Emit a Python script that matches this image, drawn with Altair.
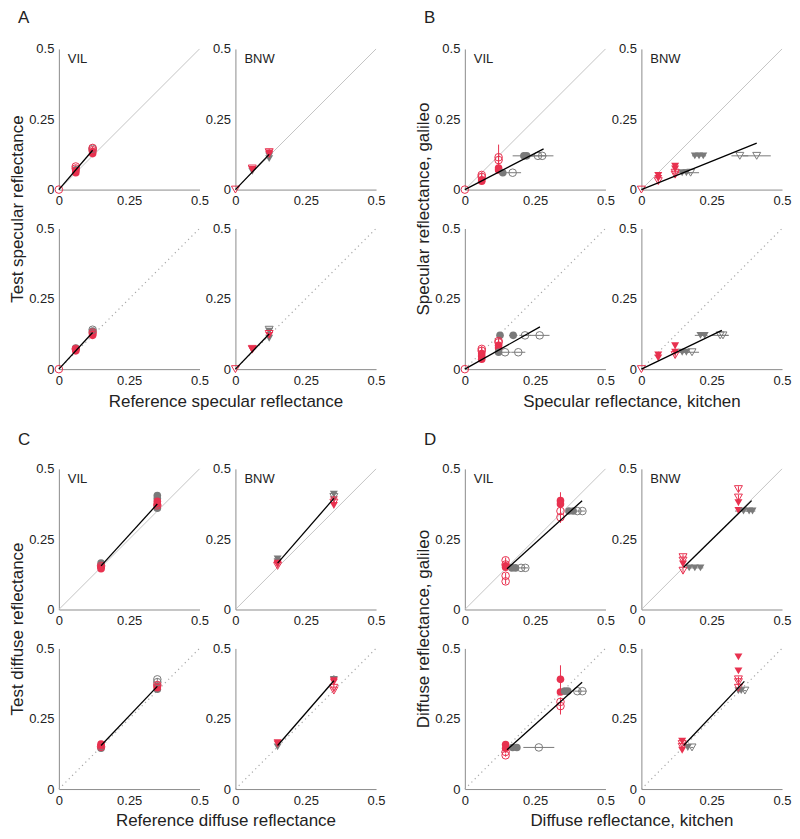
import altair as alt
import pandas as pd

RED = "#E8314F"
GRAY = "#7a7a7a"
FONT = "Liberation Sans"

# point tuples: (x, y, colour group, filled, x half-error, y half-error)
A_VIL_1 = [(0.0, 0.0, 'r', 0, 0, 0),
           (0.06, 0.07, 'g', 1, 0, 0.005), (0.06, 0.06, 'r', 1, 0, 0.005), (0.06, 0.067, 'r', 1, 0, 0.005),
           (0.06, 0.075, 'r', 0, 0, 0.005), (0.06, 0.082, 'r', 0, 0, 0.005),
           (0.12, 0.145, 'g', 0, 0, 0.005), (0.12, 0.128, 'r', 1, 0, 0.005), (0.12, 0.135, 'r', 1, 0, 0.005),
           (0.12, 0.14, 'r', 0, 0, 0.005), (0.12, 0.148, 'r', 0, 0, 0.005)]
A_BNW_1 = [(0.0, 0.0, 'r', 0, 0, 0),
           (0.06, 0.065, 'g', 1, 0, 0.005), (0.06, 0.07, 'r', 1, 0, 0.005), (0.06, 0.072, 'r', 1, 0, 0.005),
           (0.06, 0.075, 'r', 0, 0, 0.005),
           (0.12, 0.11, 'g', 1, 0, 0.005), (0.12, 0.12, 'g', 1, 0, 0.005), (0.12, 0.125, 'r', 1, 0, 0.005),
           (0.12, 0.13, 'r', 1, 0, 0.005), (0.12, 0.133, 'r', 0, 0, 0.012)]
A_VIL_2 = [(0.0, 0.0, 'r', 0, 0, 0),
           (0.06, 0.075, 'g', 1, 0, 0.005), (0.06, 0.065, 'r', 1, 0, 0.005), (0.06, 0.07, 'r', 1, 0, 0.005),
           (0.06, 0.072, 'r', 0, 0, 0.005),
           (0.12, 0.14, 'g', 0, 0, 0.005), (0.12, 0.135, 'g', 1, 0, 0.005), (0.12, 0.12, 'r', 1, 0, 0.005),
           (0.12, 0.125, 'r', 1, 0, 0.005), (0.12, 0.13, 'r', 0, 0, 0.005)]
A_BNW_2 = [(0.0, 0.0, 'r', 0, 0, 0),
           (0.06, 0.07, 'r', 1, 0, 0.005), (0.06, 0.068, 'r', 1, 0, 0.005), (0.06, 0.072, 'r', 0, 0, 0.005),
           (0.12, 0.135, 'g', 1, 0, 0.005), (0.12, 0.14, 'g', 0, 0, 0.005), (0.12, 0.11, 'g', 1, 0, 0.005),
           (0.12, 0.12, 'r', 1, 0, 0.005), (0.12, 0.125, 'r', 0, 0, 0.005)]

B_VIL_1 = [(0.0, 0.0, 'r', 0, 0, 0),
           (0.06, 0.03, 'r', 1, 0, 0.005), (0.06, 0.035, 'r', 1, 0, 0.005), (0.06, 0.045, 'r', 0, 0, 0.01),
           (0.06, 0.052, 'r', 0, 0, 0.01),
           (0.12, 0.07, 'r', 1, 0, 0.008), (0.12, 0.077, 'r', 1, 0, 0.008), (0.12, 0.105, 'r', 0, 0, 0.02),
           (0.12, 0.115, 'r', 0, 0, 0.045),
           (0.135, 0.06, 'g', 1, 0.01, 0), (0.17, 0.06, 'g', 0, 0.03, 0),
           (0.21, 0.12, 'g', 1, 0.04, 0), (0.22, 0.12, 'g', 1, 0.02, 0), (0.26, 0.12, 'g', 0, 0.03, 0),
           (0.275, 0.12, 'g', 0, 0.04, 0)]
B_BNW_1 = [(0.0, 0.0, 'r', 0, 0, 0),
           (0.06, 0.03, 'r', 0, 0, 0.01), (0.06, 0.04, 'r', 1, 0, 0.005), (0.06, 0.05, 'r', 1, 0, 0.005),
           (0.12, 0.053, 'r', 0, 0, 0.01), (0.12, 0.06, 'r', 0, 0, 0.005), (0.12, 0.073, 'r', 1, 0, 0.005),
           (0.12, 0.083, 'r', 1, 0, 0.005),
           (0.145, 0.06, 'g', 1, 0.02, 0), (0.16, 0.06, 'g', 1, 0.02, 0), (0.175, 0.06, 'g', 0, 0.03, 0),
           (0.19, 0.12, 'g', 1, 0.01, 0), (0.205, 0.12, 'g', 1, 0.01, 0), (0.22, 0.12, 'g', 1, 0.01, 0),
           (0.35, 0.12, 'g', 0, 0.03, 0), (0.41, 0.12, 'g', 0, 0.05, 0)]
B_VIL_2 = [(0.0, 0.0, 'r', 0, 0, 0),
           (0.06, 0.035, 'r', 1, 0, 0.005), (0.06, 0.045, 'r', 1, 0, 0.005), (0.06, 0.055, 'r', 1, 0, 0.005),
           (0.06, 0.065, 'r', 0, 0, 0.01), (0.06, 0.072, 'r', 0, 0, 0.01),
           (0.12, 0.075, 'r', 1, 0, 0.005), (0.12, 0.085, 'r', 1, 0, 0.005), (0.12, 0.095, 'r', 0, 0, 0.01),
           (0.12, 0.1, 'r', 0, 0, 0.01),
           (0.12, 0.06, 'g', 1, 0, 0), (0.143, 0.06, 'g', 0, 0.02, 0), (0.19, 0.06, 'g', 0, 0.025, 0),
           (0.125, 0.12, 'g', 1, 0.01, 0), (0.172, 0.12, 'g', 1, 0.015, 0), (0.214, 0.12, 'g', 0, 0.02, 0),
           (0.266, 0.12, 'g', 0, 0.035, 0)]
B_BNW_2 = [(0.0, 0.0, 'r', 0, 0, 0),
           (0.06, 0.04, 'r', 1, 0, 0.005), (0.06, 0.05, 'r', 1, 0, 0.005),
           (0.12, 0.05, 'r', 0, 0, 0.01), (0.12, 0.06, 'r', 1, 0, 0.005), (0.12, 0.083, 'r', 1, 0, 0.01),
           (0.145, 0.06, 'g', 1, 0.02, 0), (0.16, 0.06, 'g', 1, 0.01, 0), (0.18, 0.06, 'g', 0, 0.025, 0),
           (0.21, 0.12, 'g', 1, 0.02, 0), (0.225, 0.12, 'g', 1, 0.01, 0), (0.28, 0.12, 'g', 0, 0.03, 0),
           (0.29, 0.12, 'g', 0, 0.02, 0)]

C_VIL_1 = [(0.15, 0.165, 'g', 1, 0, 0.01), (0.15, 0.155, 'g', 1, 0, 0.005), (0.15, 0.15, 'r', 1, 0, 0.005),
           (0.15, 0.145, 'r', 1, 0, 0.005), (0.15, 0.155, 'r', 0, 0, 0.005),
           (0.35, 0.405, 'g', 1, 0, 0.005), (0.35, 0.395, 'g', 1, 0, 0.005), (0.35, 0.36, 'g', 1, 0, 0.005),
           (0.35, 0.385, 'r', 1, 0, 0.005), (0.35, 0.375, 'r', 1, 0, 0.005), (0.35, 0.37, 'r', 0, 0, 0.005)]
C_BNW_1 = [(0.15, 0.18, 'g', 1, 0, 0.01), (0.15, 0.17, 'g', 1, 0, 0.005), (0.15, 0.16, 'r', 1, 0, 0.005),
           (0.15, 0.165, 'r', 1, 0, 0.005), (0.15, 0.155, 'r', 0, 0, 0.005),
           (0.35, 0.41, 'g', 1, 0, 0.01), (0.35, 0.4, 'g', 0, 0, 0.005), (0.35, 0.39, 'r', 1, 0, 0.005),
           (0.35, 0.38, 'r', 0, 0, 0.005), (0.35, 0.37, 'r', 1, 0, 0.005)]
C_VIL_2 = [(0.15, 0.145, 'g', 1, 0, 0.005), (0.15, 0.16, 'r', 1, 0, 0.005), (0.15, 0.155, 'r', 1, 0, 0.005),
           (0.15, 0.15, 'r', 0, 0, 0.005),
           (0.35, 0.39, 'g', 0, 0, 0.005), (0.35, 0.38, 'g', 0, 0, 0.005), (0.35, 0.355, 'g', 1, 0, 0.005),
           (0.35, 0.36, 'r', 1, 0, 0.005), (0.35, 0.365, 'r', 1, 0, 0.005), (0.35, 0.37, 'r', 0, 0, 0.005)]
C_BNW_2 = [(0.15, 0.15, 'g', 1, 0, 0.005), (0.15, 0.16, 'r', 1, 0, 0.005), (0.15, 0.165, 'r', 1, 0, 0.005),
           (0.35, 0.39, 'g', 1, 0, 0.015), (0.35, 0.385, 'r', 1, 0, 0.005), (0.35, 0.38, 'r', 1, 0, 0.005),
           (0.35, 0.36, 'r', 0, 0, 0.01), (0.35, 0.35, 'r', 0, 0, 0.005)]

D_VIL_1 = [(0.145, 0.175, 'r', 0, 0, 0.01), (0.145, 0.16, 'r', 0, 0, 0.01), (0.145, 0.155, 'r', 1, 0, 0.01),
           (0.145, 0.15, 'r', 1, 0, 0.01), (0.145, 0.12, 'r', 0, 0, 0.01), (0.145, 0.1, 'r', 0, 0, 0.01),
           (0.167, 0.148, 'g', 1, 0.01, 0), (0.18, 0.148, 'g', 1, 0.01, 0), (0.2, 0.148, 'g', 0, 0.015, 0),
           (0.215, 0.148, 'g', 0, 0.01, 0),
           (0.34, 0.387, 'r', 1, 0, 0.03), (0.34, 0.375, 'r', 1, 0, 0.01), (0.34, 0.35, 'r', 0, 0, 0.01),
           (0.34, 0.328, 'r', 0, 0, 0.02),
           (0.37, 0.35, 'g', 1, 0.01, 0), (0.385, 0.35, 'g', 1, 0.01, 0), (0.4, 0.35, 'g', 0, 0.01, 0),
           (0.418, 0.35, 'g', 0, 0.01, 0)]
D_BNW_1 = [(0.148, 0.186, 'r', 0, 0, 0.01), (0.148, 0.174, 'r', 0, 0, 0.01), (0.148, 0.162, 'r', 1, 0, 0.005),
           (0.148, 0.138, 'r', 0, 0, 0.01),
           (0.17, 0.148, 'g', 1, 0.01, 0), (0.19, 0.148, 'g', 1, 0.01, 0), (0.21, 0.148, 'g', 1, 0.01, 0),
           (0.345, 0.428, 'r', 0, 0, 0.01), (0.345, 0.398, 'r', 0, 0, 0.01), (0.345, 0.38, 'r', 1, 0, 0.01),
           (0.345, 0.352, 'r', 1, 0, 0.01),
           (0.363, 0.35, 'g', 1, 0.03, 0), (0.383, 0.35, 'g', 1, 0.01, 0), (0.395, 0.35, 'g', 1, 0.01, 0)]
D_VIL_2 = [(0.145, 0.158, 'r', 1, 0, 0.005), (0.145, 0.145, 'r', 1, 0, 0.005), (0.145, 0.132, 'r', 0, 0, 0.005),
           (0.145, 0.12, 'r', 0, 0, 0.005),
           (0.17, 0.148, 'g', 1, 0.01, 0), (0.185, 0.148, 'g', 1, 0.01, 0), (0.263, 0.148, 'g', 0, 0.055, 0),
           (0.34, 0.39, 'r', 1, 0, 0.05), (0.34, 0.345, 'r', 1, 0, 0.01), (0.34, 0.31, 'r', 0, 0, 0.01),
           (0.34, 0.295, 'r', 0, 0, 0.03),
           (0.355, 0.348, 'g', 1, 0.01, 0), (0.366, 0.348, 'g', 1, 0.01, 0), (0.4, 0.348, 'g', 0, 0.01, 0),
           (0.418, 0.348, 'g', 0, 0.015, 0)]
D_BNW_2 = [(0.145, 0.17, 'r', 1, 0, 0.005), (0.145, 0.16, 'r', 0, 0, 0.005), (0.145, 0.15, 'r', 0, 0, 0.005),
           (0.145, 0.138, 'r', 1, 0, 0.005),
           (0.165, 0.148, 'g', 1, 0.005, 0), (0.18, 0.148, 'g', 0, 0.005, 0),
           (0.345, 0.47, 'r', 1, 0, 0.005), (0.345, 0.42, 'r', 1, 0, 0.005), (0.345, 0.39, 'r', 0, 0, 0.01),
           (0.345, 0.38, 'r', 0, 0, 0.01), (0.345, 0.36, 'r', 0, 0, 0.01),
           (0.345, 0.35, 'g', 1, 0.005, 0), (0.355, 0.35, 'g', 1, 0.005, 0), (0.368, 0.35, 'g', 0, 0.005, 0)]

# regression lines (x1, y1, x2, y2)
FIT_A = [(0, 0, 0.12, 0.14), (0, 0, 0.12, 0.125), (0, 0, 0.12, 0.13), (0, 0, 0.12, 0.125)]
FIT_B = [(0, 0, 0.28, 0.145), (0, 0, 0.41, 0.165), (0, 0, 0.267, 0.15), (0, 0, 0.286, 0.138)]
FIT_C = [(0.15, 0.155, 0.35, 0.375), (0.15, 0.165, 0.35, 0.395), (0.15, 0.155, 0.35, 0.365), (0.15, 0.155, 0.35, 0.385)]
FIT_D = [(0.15, 0.145, 0.417, 0.387), (0.15, 0.15, 0.392, 0.387), (0.15, 0.14, 0.417, 0.38), (0.15, 0.155, 0.366, 0.383)]

TICKS = [0, 0.25, 0.5]
DIAG = [(0, 0, 0.5, 0.5)]

W = 141
H = 141
NOVIEW = alt.ViewBackground(stroke="transparent", strokeWidth=0)


def make_axis(title=None, is_x=True, tx=None, ty=None):
    kw = dict(values=TICKS, format=".2~f", grid=False, ticks=False, domainColor="#8c8c8c",
              domainWidth=1, labelFont=FONT, labelFontSize=13, labelColor="#222222",
              labelFlush=False, labelOverlap=False, labelPadding=5)
    if title:
        kw.update(title=title, titleFont=FONT, titleFontSize=17, titleFontWeight="normal",
                  titleColor="#222222", titleX=tx, titleY=ty, titleBaseline="alphabetic",
                  titleAlign="center")
        if not is_x:
            kw.update(titleAngle=270)
    else:
        kw.update(title=None)
    return alt.Axis(**kw)


def panel(pts, fit, shape, label=None, dotted=False, xtitle=None, ytitle=None, letter=None, letter_dy=-28):
    df = pd.DataFrame(pts, columns=["x", "y", "c", "f", "ex", "ey"])
    df["xlo"] = df.x - df.ex
    df["xhi"] = df.x + df.ex
    df["ylo"] = df.y - df.ey
    df["yhi"] = df.y + df.ey
    xs = alt.Scale(domain=[0, 0.5], nice=False)
    ys = alt.Scale(domain=[0, 0.5], nice=False)
    cs = alt.Scale(domain=["r", "g"], range=[RED, GRAY])

    diag = pd.DataFrame(DIAG, columns=["x", "y", "x2", "y2"])
    dkw = dict(color="#c4c4c4", strokeWidth=1)
    if dotted:
        dkw = dict(color="#a8a8a8", strokeWidth=1.2, strokeDash=[1.2, 3.5])
    base_diag = alt.Chart(diag).mark_rule(**dkw).encode(
        x=alt.X("x:Q", scale=xs, axis=make_axis(xtitle, True, 167, 37)),
        y=alt.Y("y:Q", scale=ys, axis=make_axis(ytitle, False, -36, -20)),
        x2="x2:Q", y2="y2:Q")

    ebar_y = alt.Chart(df[df.ey > 0]).mark_rule(strokeWidth=1).encode(
        x=alt.X("x:Q", scale=xs), y=alt.Y("ylo:Q", scale=ys), y2="yhi:Q",
        color=alt.Color("c:N", scale=cs, legend=None))
    ebar_x = alt.Chart(df[df.ex > 0]).mark_rule(strokeWidth=1).encode(
        x=alt.X("xlo:Q", scale=xs), x2="xhi:Q", y=alt.Y("y:Q", scale=ys),
        color=alt.Color("c:N", scale=cs, legend=None))

    size = 58 if shape == "circle" else 64
    open_pts = alt.Chart(df[df.f == 0]).mark_point(shape=shape, filled=False, size=size, strokeWidth=1,
                                                    opacity=1).encode(
        x=alt.X("x:Q", scale=xs), y=alt.Y("y:Q", scale=ys),
        color=alt.Color("c:N", scale=cs, legend=None))
    fill_pts = alt.Chart(df[df.f == 1]).mark_point(shape=shape, filled=True, size=size, opacity=1).encode(
        x=alt.X("x:Q", scale=xs), y=alt.Y("y:Q", scale=ys),
        color=alt.Color("c:N", scale=cs, legend=None))

    fdf = pd.DataFrame([fit], columns=["x", "y", "x2", "y2"])
    fit_line = alt.Chart(fdf).mark_rule(color="black", strokeWidth=1.3).encode(
        x=alt.X("x:Q", scale=xs), y=alt.Y("y:Q", scale=ys), x2="x2:Q", y2="y2:Q")

    layers = [base_diag, ebar_y, ebar_x, fill_pts, open_pts, fit_line]
    if label:
        layers.append(alt.Chart(pd.DataFrame({"t": [label]})).mark_text(
            align="left", baseline="alphabetic", font=FONT, fontSize=13, color="#222222").encode(
            text="t:N", x=alt.value(9), y=alt.value(14)))
    if letter:
        layers.append(alt.Chart(pd.DataFrame({"t": [letter]})).mark_text(
            align="left", baseline="alphabetic", font=FONT, fontSize=17, color="#222222").encode(
            text="t:N", x=alt.value(-41), y=alt.value(letter_dy)))
    return alt.layer(*layers).properties(width=W, height=H, view=NOVIEW)


def spacer(w, h):
    return alt.Chart(pd.DataFrame({"v": [0]})).mark_point(opacity=0).encode(
        x=alt.value(0), y=alt.value(0)).properties(width=w, height=h, view=NOVIEW)


def group(pts4, fits, letter, xt, yt, letter_dy):
    p1 = panel(pts4[0], fits[0], "circle", "VIL", False, letter=letter, letter_dy=letter_dy)
    p2 = panel(pts4[1], fits[1], "triangle-down", "BNW", False)
    p3 = panel(pts4[2], fits[2], "circle", None, True, xtitle=xt, ytitle=yt)
    p4 = panel(pts4[3], fits[3], "triangle-down", None, True)
    return p1, p2, p3, p4


a = group([A_VIL_1, A_BNW_1, A_VIL_2, A_BNW_2], FIT_A, "A",
          "Reference specular reflectance", "Test specular reflectance", -26)
b = group([B_VIL_1, B_BNW_1, B_VIL_2, B_BNW_2], FIT_B, "B",
          "Specular reflectance, kitchen", "Specular reflectance, galileo", -26)
c = group([C_VIL_1, C_BNW_1, C_VIL_2, C_BNW_2], FIT_C, "C",
          "Reference diffuse reflectance", "Test diffuse reflectance", -24)
d = group([D_VIL_1, D_BNW_1, D_VIL_2, D_BNW_2], FIT_D, "D",
          "Diffuse reflectance, kitchen", "Diffuse reflectance, galileo", -24)

SW = 17   # extra gap between groups (columns)
SH = 22   # extra gap between groups (rows)
cells = [
    a[0], a[1], spacer(SW, H), b[0], b[1],
    a[2], a[3], spacer(SW, H), b[2], b[3],
    spacer(W, SH), spacer(W, SH), spacer(SW, SH), spacer(W, SH), spacer(W, SH),
    c[0], c[1], spacer(SW, H), d[0], d[1],
    c[2], c[3], spacer(SW, H), d[2], d[3],
]

chart = alt.concat(*cells, columns=5, spacing={"row": 39, "column": 36}, bounds="flush",
                   align="each").properties(padding=0).configure_view(
    stroke="transparent", strokeWidth=0).configure_axis(grid=False).configure(background="white")

chart.save("out.html", embed_options={"renderer": "svg", "actions": False})
